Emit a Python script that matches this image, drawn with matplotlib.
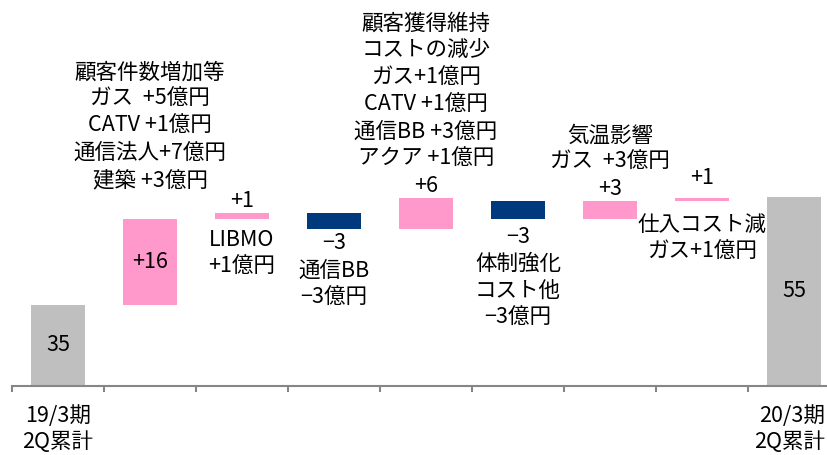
import numpy as np
import matplotlib
matplotlib.use("Agg")
import matplotlib.pyplot as plt

plt.rcParams['font.family'] = ['Noto Sans CJK JP', 'DejaVu Sans']

# Waterfall data (億円) — bar low / high
steps = ["19/3期\n2Q累計", "顧客件数増加", "LIBMO", "通信BB", "顧客獲得維持",
         "体制強化", "気温影響", "仕入コスト減", "20/3期\n2Q累計"]
bar_low = [0.0, 35.0, 50.9, 49.0, 49.0, 50.9, 50.9, 54.2, 0.0]
bar_high = [35.0, 50.9, 52.0, 52.0, 54.9, 54.2, 54.2, 54.9, 55.0]
value_labels = ["35", "+16", "+1", "−3", "+6", "−3", "+3", "+1", "55"]
kind = ["total", "up", "up", "down", "up", "down", "up", "up", "total"]

# explanation texts
notes_above = {
    1: ["顧客件数増加等", "ガス  +5億円", "CATV +1億円", "通信法人+7億円", "建築 +3億円"],
    4: ["顧客獲得維持", "コストの減少", "ガス+1億円", "CATV +1億円", "通信BB +3億円", "アクア +1億円"],
    6: ["気温影響", "ガス  +3億円"],
}
notes_below = {
    2: ["LIBMO", "+1億円"],
    3: ["通信BB", "−3億円"],
    5: ["体制強化", "コスト他", "−3億円"],
    7: ["仕入コスト減", "ガス+1億円"],
}

colors = {"total": "#BFBFBF", "up": "#FF99CC", "down": "#003A7D"}
FS = 15.5
STEP = 27  # line pitch in pixels

fig = plt.figure(figsize=(8.27, 4.55), dpi=100)
ymin = 20.1
ax = fig.add_axes([12 / 827, 69.5 / 455, 828 / 827, 385.5 / 455])
ax.set_ylim(ymin, ymin + 385.5 / 5.4)
ax.set_xlim(-0.5, len(steps) - 0.5)

x = np.arange(len(steps))
low = np.array(bar_low)
high = np.array(bar_high)
ax.bar(x, high - low, bottom=low, width=0.59,
       color=[colors[k] for k in kind], zorder=2)


def put_lines(i, yval, lines, first_off, direction):
    # direction +1: lines stacked upward ending at first_off; -1: downward
    n = len(lines)
    for j, line in enumerate(lines):
        if direction > 0:
            off = first_off + (n - 1 - j) * STEP
        else:
            off = first_off - j * STEP
        ax.annotate(line, xy=(i, yval), xytext=(0, off),
                    textcoords="offset pixels", ha="center", va="center",
                    fontsize=FS, color="black", annotation_clip=False)


for i in range(len(steps)):
    lab = value_labels[i]
    if kind[i] == "total" or i == 1:
        put_lines(i, (max(low[i], ymin) + high[i]) / 2, [lab], 0, 1)
    elif kind[i] == "up":
        extra = notes_above.get(i, [])
        off = 20 if i == 7 else 12
        put_lines(i, high[i], extra + [lab], off, 1)

# notes above bar 1 (value is inside bar)
put_lines(1, high[1], notes_above[1], 39, 1)

# labels below bars
put_lines(2, low[2], notes_below[2], -21, -1)
put_lines(3, low[3], ["−3"] + notes_below[3], -14, -1)
put_lines(5, low[5], ["−3"] + notes_below[5], -18, -1)
put_lines(7, low[7], notes_below[7], -24, -1)

# x category labels (right one kept inside the picture edge)
for i in (0, len(steps) - 1):
    last = i == len(steps) - 1
    for j, line in enumerate(steps[i].split("\n")):
        ax.annotate(line, xy=(i, ymin), xytext=(31 if last else 0, -31 - j * 26),
                    textcoords="offset pixels", ha="right" if last else "center",
                    va="center", fontsize=FS, color="black",
                    annotation_clip=False)

for s in ["top", "right", "left"]:
    ax.spines[s].set_visible(False)
ax.spines["bottom"].set_color("#868686")
ax.spines["bottom"].set_linewidth(1.5)
ax.set_yticks([])
ax.set_xticks(np.arange(len(steps) + 1) - 0.5)
ax.set_xticklabels([])
ax.tick_params(axis="x", direction="out", length=4, width=1.5, color="#868686")

fig.savefig("out.png", dpi=100)
